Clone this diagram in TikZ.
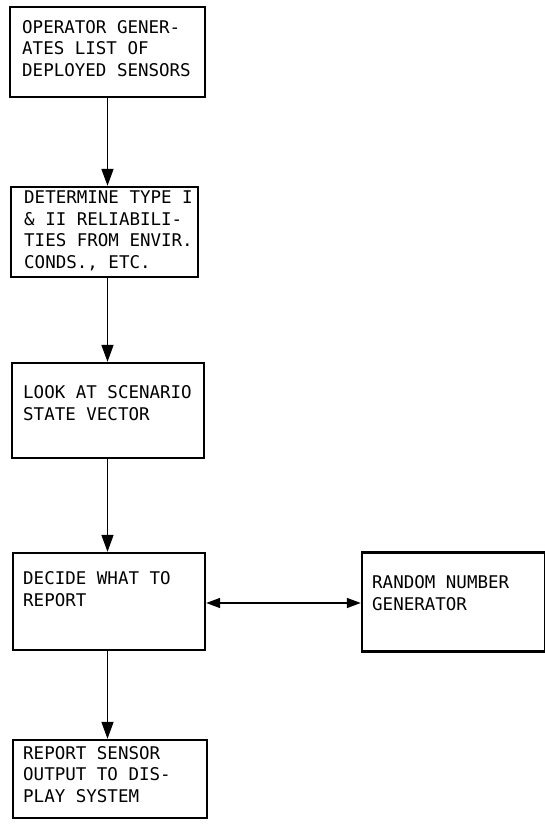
\documentclass[tikz,border=0pt]{standalone}
\usepackage{fontspec}
\newfontfamily\scanfont{DejaVu Sans Mono}
\usetikzlibrary{arrows.meta}
\begin{document}
\begin{tikzpicture}[x=1pt,y=-1pt,
  box/.style={draw=black, line width=2.4pt, inner sep=0pt},
  txt/.style={anchor=base west, inner sep=0pt, align=left,
    font=\scanfont\fontsize{17.5}{21.5}\selectfont},
  flow/.style={line width=1.5pt, -{Triangle[width=12pt,length=17pt]}},
  both/.style={line width=1.5pt, {Triangle[width=10pt,length=14pt]}-{Triangle[width=10pt,length=14pt]}}]
\useasboundingbox[fill=white] (0,0) rectangle (545,827);
% boxes
\node[box, minimum width=195pt, minimum height=90pt] (b1) at (107.5,52) {};
\node[box, minimum width=187pt, minimum height=90pt] (b2) at (104.5,232) {};
\node[box, minimum width=192pt, minimum height=95pt] (b3) at (108,410.5) {};
\node[box, minimum width=192pt, minimum height=97pt] (b4) at (109,601.5) {};
\node[box, minimum width=183pt, minimum height=99pt] (rng) at (453.5,602) {};
\node[box, minimum width=194pt, minimum height=78pt] (b5) at (110,779) {};
% texts (anchored at the baseline of their last line)
\node[txt] (t1) at (22,76) {OPERATOR GENER-\\ATES LIST OF\\DEPLOYED SENSORS};
\node[txt] (t2) at (24,268) {DETERMINE TYPE I\\\& II RELIABILI-\\TIES FROM ENVIR.\\CONDS., ETC.};
\node[txt] (t3) at (23,420) {LOOK AT SCENARIO\\STATE VECTOR};
\node[txt] (t4) at (23,606) {DECIDE WHAT TO\\REPORT};
\node[txt] (t5) at (372,610) {RANDOM NUMBER\\GENERATOR};
\node[txt] (t6) at (23,802) {REPORT SENSOR\\OUTPUT TO DIS-\\PLAY SYSTEM};
% connectors
\coordinate (ax) at (107.5,0);
\draw[flow] (b1.south -| ax) -- (b2.north -| ax);
\draw[flow] (b2.south -| ax) -- (b3.north -| ax);
\draw[flow] (b3.south -| ax) -- (b4.north -| ax);
\draw[flow] (b4.south -| ax) -- (b5.north -| ax);
\coordinate (hy) at (0,603);
\draw[both] (b4.east |- hy) -- (rng.west |- hy);
\end{tikzpicture}
\end{document}
